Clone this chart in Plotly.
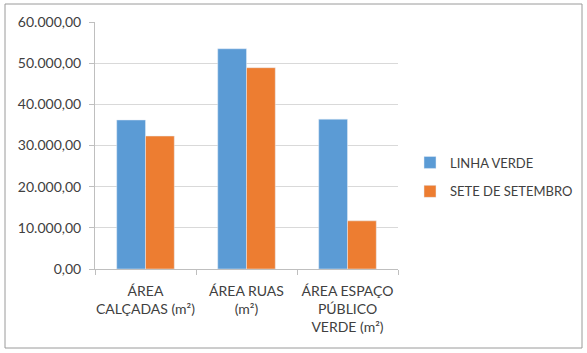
import plotly.graph_objects as go

categories = ["ÁREA<br>CALÇADAS (m²)", "ÁREA RUAS<br>(m²)", "ÁREA ESPAÇO<br>PÚBLICO<br>VERDE (m²)"]
linha_verde = [36200, 53500, 36400]
sete_setembro = [32300, 48900, 11700]
series_names = ["LINHA VERDE", "SETE DE SETEMBRO"]
y_ticks = [0, 10000, 20000, 30000, 40000, 50000, 60000]

W, H = 587, 353
L, R, T, B = 95, 398, 22, 269

fig = go.Figure()
fig.add_trace(go.Bar(x=categories, y=linha_verde, name=series_names[0],
                     marker_color="#5b9bd5", legendgroup="a"))
fig.add_trace(go.Bar(x=categories, y=sete_setembro, name=series_names[1],
                     marker_color="#ed7d31", legendgroup="b"))

pw, ph = R - L, B - T
def px_x(x): return (x - L) / pw
def px_y(y): return (B - y) / ph

fig.update_layout(
    width=W, height=H,
    margin=dict(l=L, r=W - R, t=T, b=H - B, autoexpand=False),
    paper_bgcolor="white", plot_bgcolor="white",
    separators=",.",
    font=dict(family="Lato", size=14, color="#404040"),
    barmode="group", bargap=0.43, bargroupgap=0,
    legend=dict(x=px_x(410), y=px_y(177), xanchor="left", yanchor="middle",
                font=dict(size=13), traceorder="grouped", tracegroupgap=9, itemwidth=30),
    showlegend=True,
    shapes=[dict(type="rect", xref="paper", yref="paper",
                 x0=px_x(5), x1=px_x(582), y0=px_y(348), y1=px_y(4),
                 line=dict(color="#9a9a9a", width=1), layer="below")],
)
fig.update_yaxes(range=[0, 60000], tickvals=y_ticks, tickformat=",.2f",
                 showgrid=True, gridcolor="#d9d9d9", gridwidth=1, automargin=False,
                 showline=True, linecolor="#bfbfbf", ticks="outside", ticklen=5,
                 ticklabelstandoff=5,
                 tickcolor="#bfbfbf", zeroline=False, tickfont=dict(size=14))
fig.update_xaxes(showline=True, linecolor="#bfbfbf", ticks="outside", ticklen=5,
                 tickcolor="#bfbfbf", tickson="boundaries", showgrid=False,
                 ticklabelstandoff=9,
                 tickangle=0, automargin=False, tickfont=dict(size=14))

fig.write_html("out.html")
